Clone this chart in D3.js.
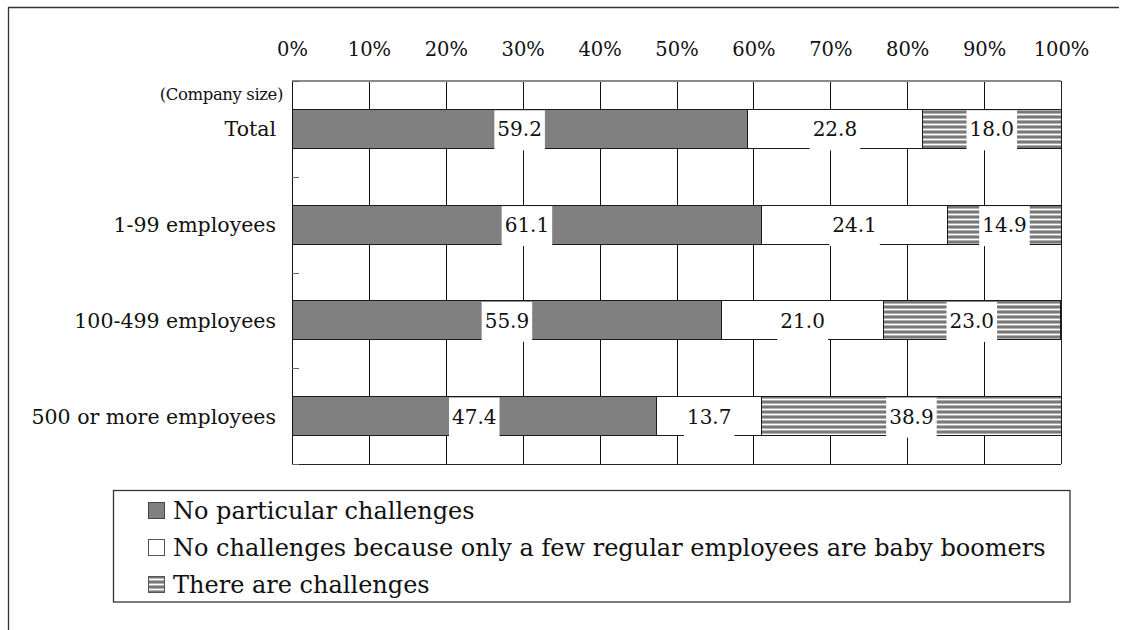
<!DOCTYPE html>
<html>
<head>
<meta charset="utf-8">
<script src="https://cdn.jsdelivr.net/npm/d3@7"></script>
<style>
  html, body { margin: 0; padding: 0; background: #fff; overflow: hidden; }
  svg { display: block; }
  text { font-family: "DejaVu Serif", serif; fill: #111; }
</style>
</head>
<body>
<svg id="chart" width="1121" height="630"></svg>
<script>
// ---- data ----
const categories = ["Total", "1-99 employees", "100-499 employees", "500 or more employees"];
const seriesNames = [
  "No particular challenges",
  "No challenges because only a few regular employees are baby boomers",
  "There are challenges"
];
const noParticular = [59.2, 61.1, 55.9, 47.4];
const fewBoomers   = [22.8, 24.1, 21.0, 13.7];
const challenges   = [18.0, 14.9, 23.0, 38.9];
const tickValues = [0, 10, 20, 30, 40, 50, 60, 70, 80, 90, 100];
const tickLabels = ["0%", "10%", "20%", "30%", "40%", "50%", "60%", "70%", "80%", "90%", "100%"];
const axisTitle = "(Company size)";

// ---- layout ----
const svg = d3.select("#chart");
const L = 292, R = 1061, T = 81, B = 464;
const H = B - T;

// stripe pattern
const defs = svg.append("defs");
const pat = defs.append("pattern").attr("id", "stripes")
  .attr("patternUnits", "userSpaceOnUse").attr("width", 10).attr("height", 5);
pat.append("rect").attr("x", 0).attr("y", 0).attr("width", 10).attr("height", 5).attr("fill", "#fff");
pat.append("rect").attr("x", 0).attr("y", 0).attr("width", 10).attr("height", 1).attr("fill", "#b0b0b0");
pat.append("rect").attr("x", 0).attr("y", 1).attr("width", 10).attr("height", 2).attr("fill", "#787878");
pat.append("rect").attr("x", 0).attr("y", 3).attr("width", 10).attr("height", 1).attr("fill", "#b0b0b0");

const fills = ["#808080", "#ffffff", "url(#stripes)"];

// outer frame: only left and top edges are visible in the view
svg.append("line").attr("x1", 8.5).attr("x2", 8.5).attr("y1", 7).attr("y2", 630)
  .attr("stroke", "#333").attr("stroke-width", 1.3);
svg.append("line").attr("x1", 8).attr("x2", 1119).attr("y1", 7.5).attr("y2", 7.5)
  .attr("stroke", "#333").attr("stroke-width", 1.3);

const x = d3.scaleLinear().domain([0, 100]).range([L, R]);
const y = d3.scaleBand().domain(categories).range([T, B])
  .paddingInner(0.593).paddingOuter(0.2965);
const yb = d3.scaleLinear().domain([0, categories.length]).range([T, B]);

// gridlines
const grid = svg.append("g").attr("transform", `translate(0,${T})`)
  .call(d3.axisBottom(x).tickValues(tickValues.slice(1, -1)).tickSize(H).tickFormat(""));
grid.select(".domain").remove();
grid.selectAll("line").attr("stroke", "#111").attr("stroke-width", 1).attr("shape-rendering", "crispEdges");

// plot border: top (gray), right, bottom
svg.append("line").attr("x1", L).attr("x2", R).attr("y1", T).attr("y2", T)
  .attr("stroke", "#8a8a8a").attr("stroke-width", 2).attr("shape-rendering", "crispEdges");
svg.append("line").attr("x1", R).attr("x2", R).attr("y1", T).attr("y2", B)
  .attr("stroke", "#222").attr("stroke-width", 1).attr("shape-rendering", "crispEdges");
svg.append("line").attr("x1", L).attr("x2", R).attr("y1", B).attr("y2", B)
  .attr("stroke", "#222").attr("stroke-width", 1).attr("shape-rendering", "crispEdges");

// top tick labels
const topAx = svg.append("g").attr("transform", `translate(0,${T})`)
  .call(d3.axisTop(x).tickValues(tickValues).tickSize(0).tickPadding(25)
    .tickFormat((d, i) => tickLabels[i]));
topAx.select(".domain").remove();
topAx.attr("font-family", null).attr("font-size", null);
topAx.selectAll("text").attr("font-family", "DejaVu Serif").attr("font-size", 19.5).attr("fill", "#111");

// stacked bars
const rows = categories.map((c, i) => ({ cat: c, s0: noParticular[i], s1: fewBoomers[i], s2: challenges[i] }));
const stack = d3.stack().keys(["s0", "s1", "s2"])(rows);

const segs = svg.append("g");
stack.forEach((layer, k) => {
  segs.selectAll(null).data(layer).enter().append("rect")
    .attr("x", d => x(d[0]))
    .attr("y", d => y(d.data.cat))
    .attr("width", d => x(d[1]) - x(d[0]))
    .attr("height", y.bandwidth())
    .attr("fill", fills[k])
    .attr("stroke", "#1a1a1a").attr("stroke-width", 1)
    .attr("shape-rendering", "crispEdges");
});

// left axis with inward ticks at band boundaries
const leftAx = svg.append("g").attr("transform", `translate(${L},0)`)
  .call(d3.axisLeft(yb).ticks(categories.length).tickSize(-7).tickFormat(""));
leftAx.select(".domain").attr("stroke", "#111").attr("shape-rendering", "crispEdges");
leftAx.selectAll("line").attr("stroke", "#666").attr("shape-rendering", "crispEdges");

// value labels with white boxes
const lab = svg.append("g");
stack.forEach((layer, k) => {
  layer.forEach(d => {
    const cx = (x(d[0]) + x(d[1])) / 2;
    const by = y(d.data.cat);
    const g = lab.append("g");
    const r = g.append("rect").attr("fill", "#fff");
    const t = g.append("text").attr("x", cx).attr("y", by + y.bandwidth() / 2 + 7.5)
      .attr("text-anchor", "middle").attr("font-size", 20)
      .text((d[1] - d[0]).toFixed(1));
    const w = t.node().getComputedTextLength() + 6;
    r.attr("x", cx - w / 2).attr("y", by + 1).attr("width", w).attr("height", y.bandwidth() + 1);
  });
});

// category labels
svg.append("g").selectAll("text").data(categories).enter().append("text")
  .attr("x", L - 16).attr("y", d => y(d) + y.bandwidth() / 2 + 7.5)
  .attr("text-anchor", "end").attr("font-size", 20.5).text(d => d);

svg.append("text").attr("x", 283).attr("y", 99.5).attr("text-anchor", "end")
  .attr("font-size", 16.5).attr("letter-spacing", -0.4).text(axisTitle);

// legend
const lg = svg.append("g");
lg.append("rect").attr("x", 113.5).attr("y", 490.5).attr("width", 956.5).attr("height", 111.5)
  .attr("fill", "#fff").attr("stroke", "#333").attr("stroke-width", 1.3);
const legendFills = ["#808080", "#ffffff", "url(#stripes)"];
const legendStroke = ["#444", "#555", "#555"];
seriesNames.forEach((name, i) => {
  const base = 519 + i * 37;
  lg.append("rect").attr("x", 148.5).attr("y", base - 16.5).attr("width", 16).attr("height", 16)
    .attr("fill", legendFills[i]).attr("stroke", legendStroke[i]).attr("stroke-width", 1);
  lg.append("text").attr("x", 173).attr("y", base).attr("font-size", 24).text(name);
});
</script>
</body>
</html>
